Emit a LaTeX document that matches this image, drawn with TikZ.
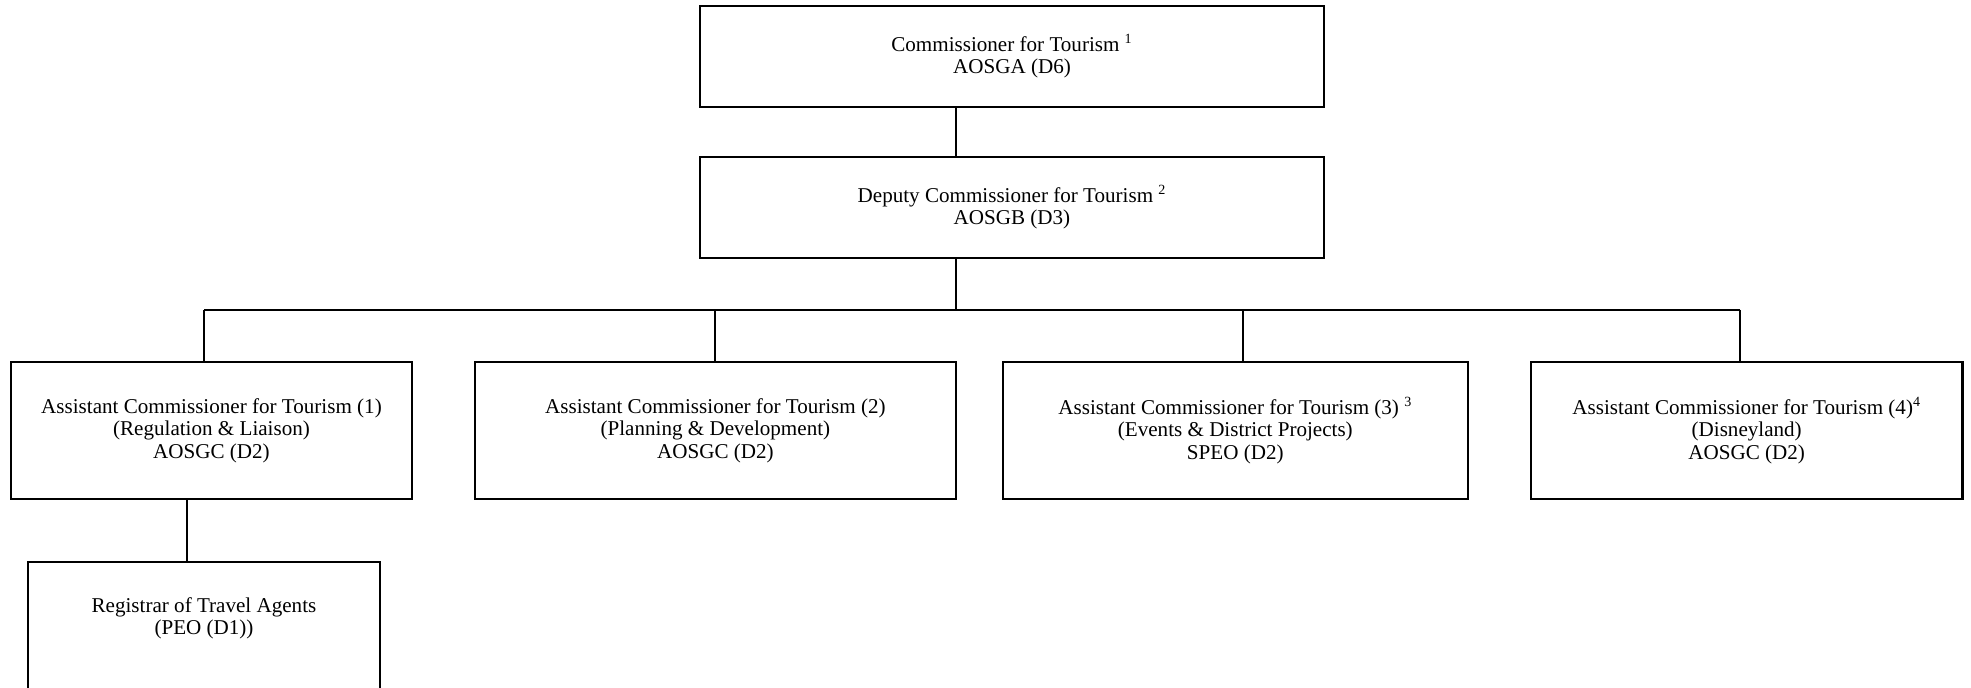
\documentclass[tikz,border=0pt]{standalone}
\usepackage{fontspec}
\setmainfont{Liberation Serif}
\usetikzlibrary{positioning}

\tikzset{
  post/.style={draw, line width=1.4pt, align=center, inner sep=0pt,
    font=\fontsize{12}{12.8}\selectfont},
  link/.style={line width=1.4pt}
}

\begin{document}
\begin{tikzpicture}[x=0.02cm, y=-0.02cm, node distance=2cm, on grid]
\useasboundingbox (0,0) rectangle (1971,688);

\node[post, minimum width=12.48cm, minimum height=2.02cm] (comm) at (1012,56.5)
  {Commissioner for Tourism \textsuperscript{1}\\AOSGA (D6)};
\node[post, minimum width=12.48cm, minimum height=2.02cm] (deputy) [below=3.02cm of comm]
  {Deputy Commissioner for Tourism \textsuperscript{2}\\AOSGB (D3)};

\node[post, minimum width=8.02cm, minimum height=2.74cm] (ac1) at (211.5,430.5)
  {Assistant Commissioner for Tourism (1)\\(Regulation \& Liaison)\\AOSGC (D2)};
\node[post, minimum width=9.62cm, minimum height=2.74cm] (ac2) [right=10.08cm of ac1]
  {Assistant Commissioner for Tourism (2)\\(Planning \& Development)\\AOSGC (D2)};
\node[post, minimum width=9.3cm, minimum height=2.74cm] (ac3) [right=10.4cm of ac2]
  {Assistant Commissioner for Tourism (3) \textsuperscript{3}\\(Events \& District Projects)\\SPEO (D2)};
\node[post, minimum width=8.64cm, minimum height=2.74cm] (ac4) [right=10.23cm of ac3]
  {Assistant Commissioner for Tourism (4)\textsuperscript{4}\\(Disneyland)\\AOSGC (D2)};

\node[post, minimum width=7.04cm, minimum height=2.76cm] (reg) [below=4.01cm of ac1, xshift=-0.15cm]
  {Registrar of Travel Agents\\(PEO (D1))\\[4pt]\mbox{}};

% connectors
\coordinate (fork) at (956,310);
\coordinate (d1) at (204,310);
\coordinate (d2) at (715,310);
\coordinate (d3) at (1243,310);
\coordinate (d4) at (1740,310);
\coordinate (regdrop) at (187,530);

\draw[link] (comm.south -| fork) -- (deputy.north -| fork);
\draw[link] (deputy.south -| fork) -- (fork);
\draw[link] (d1) -- (d4);
\foreach \d/\b in {d1/ac1, d2/ac2, d3/ac3, d4/ac4}
  \draw[link] (\d) -- (\d |- \b.north);
\draw[link] (ac1.south -| regdrop) -- (reg.north -| regdrop);
\end{tikzpicture}
\end{document}
